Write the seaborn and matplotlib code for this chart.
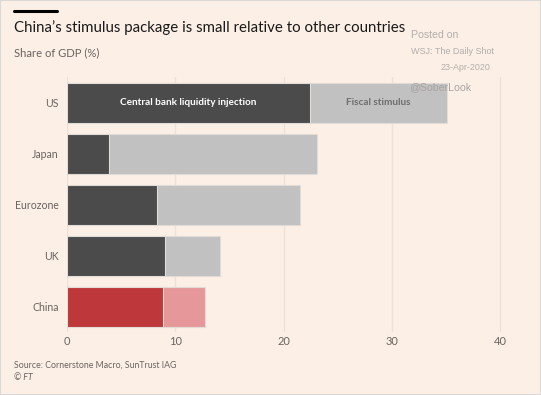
import numpy as np
import pandas as pd
import matplotlib
matplotlib.use('Agg')
import matplotlib.pyplot as plt
import seaborn as sns

# values (share of GDP, %)
countries = ['US', 'Japan', 'Eurozone', 'UK', 'China']
liquidity = [22.4, 3.9, 8.3, 9.0, 8.9]
fiscal = [12.7, 19.2, 13.2, 5.1, 3.8]
x_ticks = [0, 10, 20, 30, 40]

dark_cols = ['#4b4b4b', '#4b4b4b', '#4b4b4b', '#4b4b4b', '#bd373b']
light_cols = ['#c1c1c1', '#c1c1c1', '#c1c1c1', '#c1c1c1', '#e6979a']

bg = '#fcefe6'
txt = '#6b6460'

df = pd.DataFrame({'country': countries, 'liquidity': liquidity, 'fiscal': fiscal})
df['total'] = df['liquidity'] + df['fiscal']

sns.set_theme(style='white')
plt.rcParams['font.family'] = ['Lato', 'DejaVu Sans']

fig = plt.figure(figsize=(5.41, 3.95), dpi=100, facecolor=bg)
ax = fig.add_axes([0.124, 0.159, 0.837, 0.645], facecolor=bg)

# light bar = full stack, dark bar on top = liquidity part
sns.barplot(data=df, y='country', x='total', hue='country', palette=light_cols,
            legend=False, width=0.78, saturation=1, edgecolor='#e2dcd6',
            linewidth=0.8, ax=ax, zorder=2)
sns.barplot(data=df, y='country', x='liquidity', hue='country', palette=dark_cols,
            legend=False, width=0.78, saturation=1, edgecolor='#e2dcd6',
            linewidth=0.8, ax=ax, zorder=3)

ax.set_xlim(0, 41.8)
ax.set_ylim(4.5, -0.5)
ax.set_xticks(x_ticks)
ax.set_xticklabels([str(t) for t in x_ticks])
ax.grid(axis='x', color='#ebe1d8', linewidth=1, zorder=0)
ax.set_axisbelow(True)
for s in ax.spines.values():
    s.set_visible(False)
ax.tick_params(axis='y', length=0, labelsize=7.6, labelcolor=txt, pad=6)
ax.tick_params(axis='x', length=0, labelsize=8, labelcolor=txt, pad=3)
ax.set_xlabel('')
ax.set_ylabel('')

# labels inside the US bar
ax.text(liquidity[0] / 2, 0, 'Central bank liquidity injection', color='white',
        ha='center', va='center', fontsize=7.2, fontweight='bold', zorder=5)
ax.text(liquidity[0] + fiscal[0] / 2, 0, 'Fiscal stimulus', color='#6e6e6e',
        ha='center', va='center', fontsize=7.2, fontweight='bold', zorder=5)

# header
fig.add_artist(plt.Line2D([14 / 541, 57 / 541], [1 - 11 / 395, 1 - 11 / 395],
                          color='black', linewidth=2.2))
fig.text(14 / 541, 1 - 28 / 395, "China\u2019s stimulus package is small relative to other countries",
         fontsize=10.8, color='#1a1a1a', va='center', ha='left')
fig.text(14 / 541, 1 - 53 / 395, 'Share of GDP (%)', fontsize=8.1, color=txt, va='center')

# watermark
wm = ['Liberation Sans', 'DejaVu Sans']
fig.text(411 / 541, 1 - 35 / 395, 'Posted on', fontsize=7.6, color='#b3aeab', va='center', family=wm)
fig.text(411 / 541, 1 - 51 / 395, 'WSJ: The Daily Shot', fontsize=6.5, color='#b3aeab', va='center', family=wm)
fig.text(490 / 541, 1 - 68 / 395, '23-Apr-2020', fontsize=6.4, color='#b3aeab', va='center', ha='right', family=wm)
fig.text(409 / 541, 1 - 87 / 395, '@SoberLook', fontsize=7.6, color='#a8a4a2', va='center', family=wm, zorder=10)

# footer
fig.text(14 / 541, 1 - 365 / 395, 'Source: Cornerstone Macro, SunTrust IAG', fontsize=6.3, color=txt, va='center')
fig.text(14 / 541, 1 - 377 / 395, '\u00a9 FT', fontsize=6.3, color=txt, va='center', style='italic')

fig.patches.append(plt.Rectangle((0, 0), 1, 1, transform=fig.transFigure, fill=False,
                                 edgecolor='#d9d9d9', linewidth=1.5))

fig.savefig('out.png', dpi=100, facecolor=bg)
